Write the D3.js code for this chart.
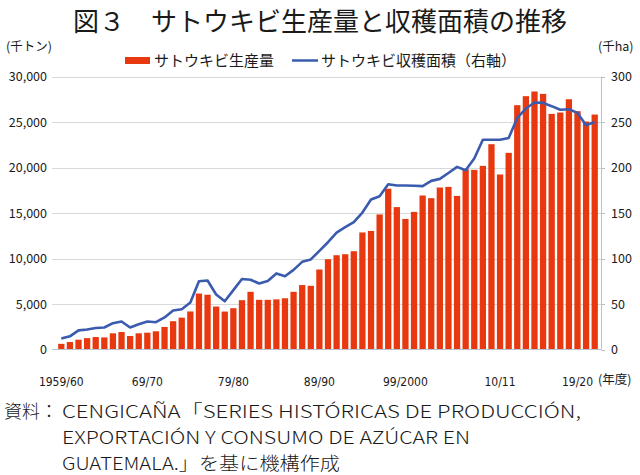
<!DOCTYPE html>
<html><head><meta charset="utf-8">
<script src="https://cdn.jsdelivr.net/npm/d3@7"></script>
<style>
body{margin:0;background:#fff;}
svg{display:block;}
text{font-family:"Noto Sans CJK JP","Noto Sans",sans-serif;fill:#1a1a1a;}
</style>
</head><body>
<svg id="c" width="640" height="475"></svg>
<script>
const categories = ["1959/60","60/61","61/62","62/63","63/64","64/65","65/66","66/67","67/68","68/69",
"69/70","70/71","71/72","72/73","73/74","74/75","75/76","76/77","77/78","78/79",
"79/80","80/81","81/82","82/83","83/84","84/85","85/86","86/87","87/88","88/89",
"89/90","90/91","91/92","92/93","93/94","94/95","95/96","96/97","97/98","98/99",
"99/2000","00/01","01/02","02/03","03/04","04/05","05/06","06/07","07/08","08/09",
"09/10","10/11","11/12","12/13","13/14","14/15","15/16","16/17","17/18","18/19",
"19/20","20/21","21/22"];
// サトウキビ生産量（千トン）
const production = [620,820,1080,1250,1370,1330,1780,1920,1480,1780,
1850,2000,2480,3110,3500,4180,6150,6020,4720,4170,
4540,5420,6340,5460,5460,5510,5630,6340,7080,7000,
8790,9920,10360,10470,10800,12860,13030,14840,17670,15650,
14350,15120,16920,16630,17800,17870,16880,19810,19740,20180,
22560,19230,21610,26850,27840,28350,28090,25890,26040,27500,
26190,25050,25820];
// サトウキビ収穫面積（千ha）
const area = [12,14.5,21,22,23.7,24.2,28.9,30.8,24.2,27.8,
30.8,30,35.2,42.9,44.3,51.6,75,75.8,60.4,53,
65.2,77.5,76.7,72.5,75.2,83.6,80.5,87.5,96.3,99,
108.4,117.9,128.5,134.4,139.9,150.5,164.8,168.5,181.6,180.3,
180.2,180,179.5,185.3,187.5,194,200.7,197,209.9,230.5,
230.5,230.5,232.5,254.5,264.8,271.4,271,267.4,263.5,264,
260,246.5,250];
const tickLabels = ["1959/60","69/70","79/80","89/90","99/2000","10/11","19/20"];
const leftTicks = [0,5000,10000,15000,20000,25000,30000];
const rightTicks = [0,50,100,150,200,250,300];
const sourceLines = ["CENGICAÑA「SERIES HISTÓRICAS DE PRODUCCIÓN,",
  "EXPORTACIÓN Y CONSUMO DE AZÚCAR EN",
  "GUATEMALA.」を基に機構作成"];

const svg = d3.select("#c");
const red = "#E8380F", blue = "#3A5BAE";

const x = d3.scaleBand().domain(categories).range([57,599]).paddingInner(0.27).paddingOuter(0.135);
const yL = d3.scaleLinear().domain([0,30000]).range([349.5,76.5]);
const yR = d3.scaleLinear().domain([0,300]).range([349.5,76.5]);

// title
svg.append("text").attr("x",320).attr("y",31).attr("text-anchor","middle")
  .style("font-size","26px").text("図３　サトウキビ生産量と収穫面積の推移");

// units
svg.append("text").attr("x",6).attr("y",51).style("font-size","12.5px").text("(千トン)");
svg.append("text").attr("x",598).attr("y",51).style("font-size","12.5px").text("(千ha)");

// legend
svg.append("rect").attr("x",125).attr("y",57).attr("width",25).attr("height",7).attr("fill",red);
svg.append("text").attr("x",154).attr("y",66).style("font-size","15px").text("サトウキビ生産量");
svg.append("line").attr("x1",292).attr("x2",318).attr("y1",60.5).attr("y2",60.5)
  .attr("stroke",blue).attr("stroke-width",2.5);
svg.append("text").attr("x",321).attr("y",66).style("font-size","15px").text("サトウキビ収穫面積（右軸）");

// gridlines
svg.append("g").selectAll("line").data(leftTicks.filter(d=>d>0)).join("line")
  .attr("x1",52).attr("x2",601).attr("y1",d=>Math.round(yL(d))+0.5).attr("y2",d=>Math.round(yL(d))+0.5)
  .attr("stroke","#d9d9d9").attr("stroke-width",1);

// left tick labels
svg.append("g").selectAll("text").data(leftTicks).join("text")
  .attr("x",47).attr("y",d=>yL(d)+4.5).attr("text-anchor","end")
  .style("font-size","12.5px").text(d3.format(","));

// bars
svg.append("g").selectAll("rect").data(production).join("rect")
  .attr("x",(d,i)=>x(categories[i])).attr("width",x.bandwidth())
  .attr("y",d=>yL(d)).attr("height",d=>yL(0)-yL(d)).attr("fill",red);

// line
const line = d3.line().x((d,i)=>x(categories[i])+x.bandwidth()/2).y(d=>yR(d));
svg.append("path").datum(area).attr("d",line).attr("fill","none")
  .attr("stroke",blue).attr("stroke-width",2.6).attr("stroke-linejoin","round");

// bottom axis line
svg.append("line").attr("x1",52).attr("x2",601).attr("y1",349.5).attr("y2",349.5)
  .attr("stroke","#b9c3d3").attr("stroke-width",1.2);

// right axis
const gR = svg.append("g");
gR.append("line").attr("x1",601.5).attr("x2",601.5).attr("y1",76.5).attr("y2",349.5)
  .attr("stroke","#bfbfbf").attr("stroke-width",1);
gR.selectAll("line.t").data(rightTicks).join("line").attr("class","t")
  .attr("x1",601.5).attr("x2",605).attr("y1",d=>Math.round(yR(d))+0.5).attr("y2",d=>Math.round(yR(d))+0.5)
  .attr("stroke","#bfbfbf");
gR.selectAll("text").data(rightTicks).join("text")
  .attr("x",611).attr("y",d=>yR(d)+4.5).style("font-size","12.5px").text(d=>d);

// x tick labels
svg.append("g").selectAll("text").data(tickLabels).join("text")
  .attr("x",d=>x(d)+x.bandwidth()/2).attr("y",386).attr("text-anchor","middle")
  .style("font-family","'Liberation Sans Narrow','DejaVu Sans Condensed',sans-serif")
  .style("font-size","12px").text(d=>d);
svg.append("text").attr("x",598).attr("y",384).style("font-size","12.5px").text("(年度)");

// source
const src = svg.append("g").style("font-size","18px").style("font-weight","300");
src.append("text").attr("x",4).attr("y",418).text("資料：");
const srcLens = [519, 408, 278];
src.selectAll("text.s").data(sourceLines).join("text").attr("class","s")
  .attr("x",62).attr("y",(d,i)=>418+26*i)
  .attr("textLength",(d,i)=>srcLens[i]).attr("lengthAdjust","spacingAndGlyphs")
  .text(d=>d);
</script>
</body></html>
